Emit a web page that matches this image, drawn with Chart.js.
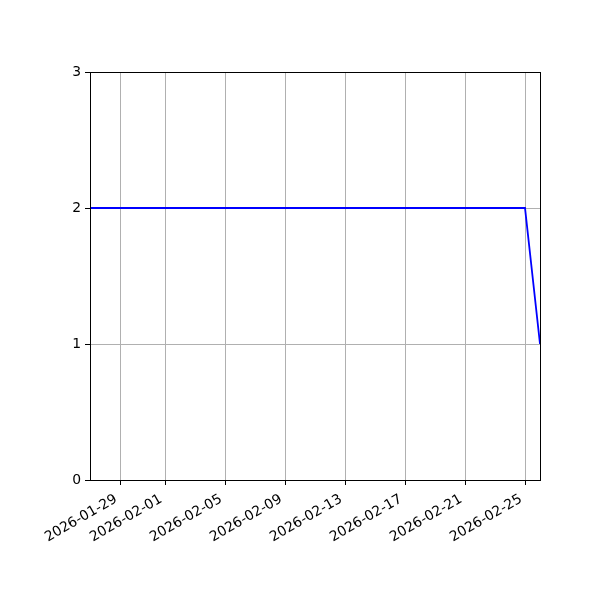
<!DOCTYPE html>
<html>
<head>
    <title>Daily Count</title>
    <style>
        body {
            margin: 0;
            padding: 0;
            background-color: #fff;
        }
        #wrap {
            position: relative;
            width: 600px;
            height: 600px;
        }
    </style>
    <script src="https://cdn.jsdelivr.net/npm/chart.js"></script>
</head>
<body>
    <div id="wrap">
        <canvas id="chart" width="600" height="600"></canvas>
    </div>
    <script>
        // one value per day
        var dates = [
            '2026-01-27', '2026-01-28', '2026-01-29', '2026-01-30', '2026-01-31',
            '2026-02-01', '2026-02-02', '2026-02-03', '2026-02-04', '2026-02-05',
            '2026-02-06', '2026-02-07', '2026-02-08', '2026-02-09', '2026-02-10',
            '2026-02-11', '2026-02-12', '2026-02-13', '2026-02-14', '2026-02-15',
            '2026-02-16', '2026-02-17', '2026-02-18', '2026-02-19', '2026-02-20',
            '2026-02-21', '2026-02-22', '2026-02-23', '2026-02-24', '2026-02-25',
            '2026-02-26'
        ];
        var values = [
            2, 2, 2, 2, 2,
            2, 2, 2, 2, 2,
            2, 2, 2, 2, 2,
            2, 2, 2, 2, 2,
            2, 2, 2, 2, 2,
            2, 2, 2, 2, 2,
            1
        ];
        var xTickDates = ['2026-01-29', '2026-02-01', '2026-02-05', '2026-02-09',
                          '2026-02-13', '2026-02-17', '2026-02-21', '2026-02-25'];
        var yTicks = [0, 1, 2, 3];

        function toMs(d) { return Date.parse(d + 'T00:00:00Z'); }
        function fmt(ms) { return new Date(ms).toISOString().slice(0, 10); }

        var points = dates.map(function(d, i) {
            return { x: toMs(d), y: values[i] };
        });

        // full black frame round the plot, like matplotlib
        var frame = {
            id: 'frame',
            afterDatasetsDraw: function(chart) {
                var a = chart.chartArea;
                var ctx = chart.ctx;
                ctx.save();
                ctx.strokeStyle = '#000';
                ctx.lineWidth = 1;
                ctx.strokeRect(Math.round(a.left) + 0.5, Math.round(a.top) + 0.5,
                               Math.round(a.right - a.left), Math.round(a.bottom - a.top));
                ctx.restore();
            }
        };

        var font = { family: 'DejaVu Sans', size: 13.9 };

        new Chart(document.getElementById('chart'), {
            type: 'line',
            data: {
                datasets: [{
                    data: points,
                    borderColor: '#0000ff',
                    borderWidth: 1.8,
                    pointRadius: 0,
                    tension: 0,
                    fill: false
                }]
            },
            options: {
                responsive: false,
                animation: false,
                layout: { padding: { left: 0, right: 60, top: 72, bottom: 0 } },
                plugins: {
                    legend: { display: false },
                    tooltip: { enabled: false }
                },
                scales: {
                    x: {
                        type: 'linear',
                        min: toMs(dates[0]),
                        max: toMs(dates[dates.length - 1]),
                        afterBuildTicks: function(scale) {
                            scale.ticks = xTickDates.map(function(d) { return { value: toMs(d) }; });
                        },
                        afterFit: function(scale) { scale.height = 120; },
                        grid: { color: '#b0b0b0', tickColor: '#000', tickLength: 5, lineWidth: 1 },
                        border: { display: false },
                        ticks: {
                            autoSkip: false,
                            minRotation: 30,
                            maxRotation: 30,
                            padding: 6,
                            labelOffset: -4,
                            color: '#000',
                            font: font,
                            callback: function(v) { return fmt(v); }
                        }
                    },
                    y: {
                        min: 0,
                        max: 3,
                        afterBuildTicks: function(scale) {
                            scale.ticks = yTicks.map(function(v) { return { value: v }; });
                        },
                        afterFit: function(scale) { scale.width = 90; },
                        grid: { color: '#b0b0b0', tickColor: '#000', tickLength: 5, lineWidth: 1 },
                        border: { display: false },
                        ticks: {
                            padding: 4,
                            color: '#000',
                            font: font
                        }
                    }
                }
            },
            plugins: [frame]
        });
    </script>
</body>
</html>
